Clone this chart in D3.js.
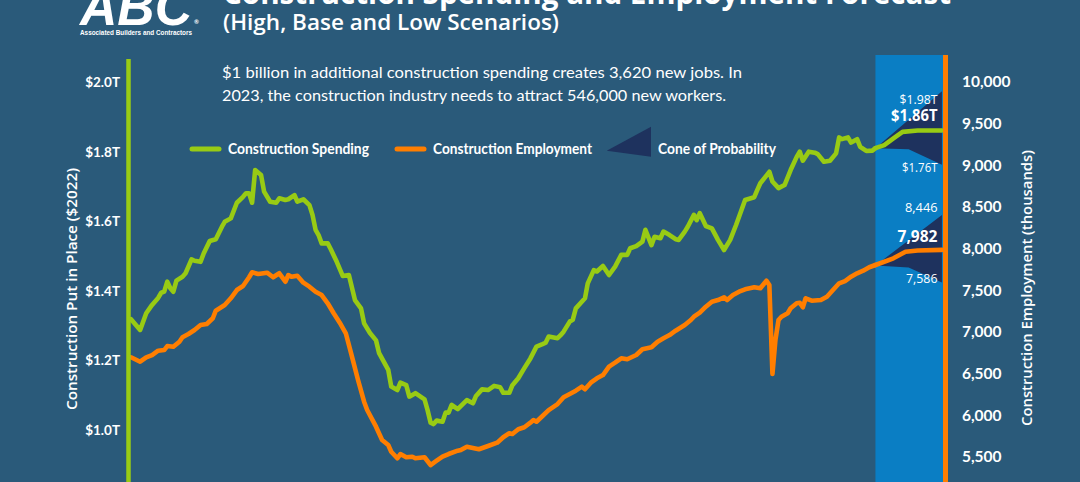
<!DOCTYPE html>
<html><head><meta charset="utf-8">
<script src="https://cdn.jsdelivr.net/npm/d3@7"></script>
<style>html,body{margin:0;padding:0;background:#2a5a7a;} svg{display:block}</style>
</head><body><svg id="c" width="1080" height="482"></svg>
<script>
// ---------- DATA ----------
const spendingTicks = [1.0, 1.2, 1.4, 1.6, 1.8, 2.0];
const employmentTicks = [5500, 6000, 6500, 7000, 7500, 8000, 8500, 9000, 9500, 10000];

const spending = [["2002-08",1.319],["2002-11",1.288],["2003-01",1.336],["2003-03",1.360],["2003-05",1.380],["2003-06",1.395],["2003-07",1.398],["2003-08",1.427],["2003-09",1.408],["2003-10",1.398],["2003-11",1.430],["2004-01",1.441],["2004-02",1.451],["2004-04",1.491],["2004-05",1.487],["2004-07",1.484],["2004-08",1.508],["2004-10",1.544],["2004-12",1.549],["2005-02",1.585],["2005-03",1.599],["2005-05",1.609],["2005-07",1.654],["2005-09",1.671],["2005-10",1.681],["2005-11",1.681],["2005-12",1.654],["2006-01",1.748],["2006-03",1.734],["2006-04",1.686],["2006-06",1.657],["2006-08",1.654],["2006-09",1.667],["2006-11",1.662],["2006-12",1.664],["2007-02",1.676],["2007-03",1.657],["2007-05",1.664],["2007-07",1.647],["2007-08",1.619],["2007-09",1.576],["2007-10",1.561],["2007-11",1.537],["2008-01",1.537],["2008-02",1.520],["2008-04",1.484],["2008-06",1.443],["2008-08",1.446],["2008-10",1.374],["2008-12",1.350],["2009-01",1.307],["2009-03",1.279],["2009-05",1.258],["2009-06",1.221],["2009-09",1.173],["2009-10",1.125],["2009-12",1.115],["2010-01",1.136],["2010-03",1.129],["2010-04",1.096],["2010-06",1.106],["2010-09",1.088],["2010-10",1.058],["2010-11",1.021],["2010-12",1.017],["2011-01",1.027],["2011-03",1.024],["2011-04",1.050],["2011-05",1.050],["2011-06",1.072],["2011-08",1.060],["2011-11",1.086],["2012-01",1.077],["2012-02",1.098],["2012-04",1.117],["2012-06",1.115],["2012-08",1.127],["2012-10",1.123],["2012-11",1.107],["2013-01",1.107],["2013-02",1.129],["2013-04",1.149],["2013-06",1.178],["2013-08",1.206],["2013-10",1.240],["2013-12",1.247],["2014-01",1.251],["2014-02",1.269],["2014-05",1.264],["2014-06",1.273],["2014-07",1.283],["2014-09",1.312],["2014-10",1.317],["2014-11",1.350],["2015-02",1.379],["2015-03",1.422],["2015-05",1.460],["2015-06",1.456],["2015-08",1.472],["2015-10",1.446],["2015-12",1.470],["2016-02",1.504],["2016-04",1.504],["2016-05",1.523],["2016-07",1.529],["2016-09",1.542],["2016-10",1.576],["2016-12",1.532],["2017-01",1.556],["2017-03",1.552],["2017-04",1.571],["2017-06",1.561],["2017-08",1.549],["2017-09",1.547],["2017-11",1.571],["2017-12",1.585],["2018-02",1.619],["2018-03",1.604],["2018-04",1.624],["2018-06",1.587],["2018-08",1.580],["2018-10",1.547],["2018-12",1.518],["2019-02",1.547],["2019-04",1.590],["2019-06",1.638],["2019-07",1.662],["2019-10",1.670],["2019-11",1.691],["2019-12",1.710],["2020-03",1.743],["2020-04",1.715],["2020-06",1.696],["2020-08",1.705],["2020-10",1.748],["2020-12",1.786],["2021-01",1.801],["2021-02",1.775],["2021-04",1.801],["2021-06",1.798],["2021-07",1.794],["2021-09",1.772],["2021-11",1.775],["2022-01",1.796],["2022-02",1.842],["2022-03",1.837],["2022-05",1.842],["2022-06",1.827],["2022-08",1.837],["2022-09",1.815],["2022-11",1.803],["2023-01",1.804],["2023-02",1.811]];
const spendingBase = [["2023-02",1.811],["2023-05",1.820],["2023-08",1.839],["2023-11",1.858],["2024-04",1.862],["2024-12",1.862]];
const spendingHigh = [["2023-02",1.811],["2024-12",1.975]];
const spendingLow = [["2023-02",1.811],["2024-01",1.808],["2024-12",1.763]];

const employment = [["2002-08",6693],["2002-11",6640],["2003-01",6693],["2003-03",6720],["2003-05",6772],["2003-07",6780],["2003-08",6828],["2003-10",6820],["2003-12",6880],["2004-01",6933],["2004-03",6972],["2004-05",7020],["2004-07",7080],["2004-09",7092],["2004-11",7161],["2004-12",7252],["2005-03",7320],["2005-05",7401],["2005-07",7500],["2005-09",7548],["2005-11",7653],["2005-12",7713],["2006-02",7692],["2006-05",7708],["2006-07",7653],["2006-09",7701],["2006-11",7600],["2006-12",7680],["2007-01",7660],["2007-03",7672],["2007-05",7588],["2007-07",7540],["2007-09",7480],["2007-11",7440],["2008-01",7341],["2008-03",7221],["2008-05",7108],["2008-07",6981],["2008-09",6700],["2008-11",6420],["2009-01",6160],["2009-02",6060],["2009-05",5860],["2009-07",5700],["2009-09",5640],["2009-10",5560],["2009-12",5481],["2010-01",5532],["2010-03",5493],["2010-05",5500],["2010-06",5481],["2010-09",5493],["2010-11",5400],["2011-01",5452],["2011-03",5500],["2011-05",5532],["2011-08",5572],["2011-09",5580],["2011-11",5620],["2012-03",5589],["2012-06",5628],["2012-09",5668],["2012-11",5733],["2013-01",5781],["2013-02",5772],["2013-04",5829],["2013-06",5853],["2013-08",5908],["2013-09",5940],["2013-10",5920],["2013-12",5988],["2014-02",6060],["2014-05",6132],["2014-07",6213],["2014-09",6252],["2014-11",6292],["2015-01",6340],["2015-02",6309],["2015-04",6388],["2015-06",6441],["2015-08",6480],["2015-10",6580],["2015-12",6628],["2016-02",6681],["2016-04",6669],["2016-07",6720],["2016-09",6789],["2016-12",6813],["2017-02",6880],["2017-04",6921],["2017-06",6960],["2017-08",7012],["2017-11",7080],["2018-01",7140],["2018-02",7180],["2018-04",7228],["2018-06",7300],["2018-08",7360],["2018-10",7380],["2018-12",7413],["2019-01",7380],["2019-03",7440],["2019-05",7480],["2019-07",7509],["2019-10",7533],["2019-12",7521],["2020-02",7612],["2020-03",7560],["2020-04",6492],["2020-05",6900],["2020-06",7140],["2020-07",7180],["2020-09",7221],["2020-10",7281],["2020-12",7341],["2021-01",7348],["2021-02",7293],["2021-03",7401],["2021-05",7372],["2021-08",7380],["2021-10",7420],["2021-12",7500],["2022-02",7581],["2022-04",7608],["2022-06",7660],["2022-08",7701],["2022-10",7732],["2022-12",7773],["2023-02",7800]];
const employmentBase = [["2023-02",7800],["2023-03",7812],["2023-08",7881],["2023-12",7960],["2024-04",7974],["2024-12",7982]];
const employmentHigh = [["2023-02",7794],["2024-12",8400]];
const employmentLow = [["2023-02",7794],["2024-01",7770],["2024-12",7590]];

const forecastPeriod = ["2023-02", "2025-01"];
const timeDomain = ["2002-08", "2025-01"];

const spendingLabels = [["$1.98T", 1.975, "high"], ["$1.86T", 1.862, "base"], ["$1.76T", 1.763, "low"]];
const employmentLabels = [["8,446", 8446, "high"], ["7,982", 7982, "base"], ["7,586", 7586, "low"]];

// ---------- DRAW ----------
const W = 1080, H = 482;
const C = {bg:"#2a5a7a", band:"#0a7ec4", cone:"#1e325e", green:"#98cb14", orange:"#ff7e00", text:"#ffffff"};
const parse = d3.timeParse("%Y-%m");
const svg = d3.select("#c");
svg.append("rect").attr("width", W).attr("height", H).attr("fill", C.bg);

const x = d3.scaleTime().domain(timeDomain.map(parse)).range([131, 945]);
const yL = d3.scaleLinear().domain([1.0, 2.0]).range([430, 82.5]);
const yR = d3.scaleLinear().domain([5500, 10000]).range([456.7, 81.7]);

function T(sel, x0, y0, s, o) {
  const t = sel.append("text").attr("x", x0).attr("y", y0).text(s)
    .attr("fill", o.fill || C.text)
    .attr("font-family", o.family || "Lato, 'Open Sans', sans-serif")
    .attr("font-size", o.size)
    .attr("font-weight", o.weight || "normal")
    .attr("text-anchor", o.anchor || "start");
  if (o.style) t.attr("font-style", o.style);
  if (o.len) t.attr("textLength", o.len).attr("lengthAdjust", "spacingAndGlyphs");
  if (o.transform) t.attr("transform", o.transform);
  return t;
}

// forecast band
svg.append("rect")
  .attr("x", x(parse(forecastPeriod[0])))
  .attr("y", 55)
  .attr("width", x(parse(forecastPeriod[1])) - x(parse(forecastPeriod[0])))
  .attr("height", H - 55)
  .attr("fill", C.band);

// cones
const poly = (hi, lo, y) => d3.line().x(d => x(parse(d[0]))).y(d => y(d[1]))(hi.concat(lo.slice().reverse())) + "Z";
svg.append("path").attr("d", poly(spendingHigh, spendingLow, yL)).attr("fill", C.cone);
svg.append("path").attr("d", poly(employmentHigh, employmentLow, yR)).attr("fill", C.cone);

// lines
const lineL = d3.line().x(d => x(parse(d[0]))).y(d => yL(d[1]));
const lineR = d3.line().x(d => x(parse(d[0]))).y(d => yR(d[1]));
function drawLine(data, gen, col) {
  svg.append("path").attr("d", gen(data)).attr("fill", "none").attr("stroke", col)
    .attr("stroke-width", 4.6).attr("stroke-linejoin", "round").attr("stroke-linecap", "round");
}
drawLine(employment, lineR, C.orange);
drawLine(employmentBase, lineR, C.orange);
drawLine(spending, lineL, C.green);
drawLine(spendingBase, lineL, C.green);

// axis lines
svg.append("line").attr("x1", 128.5).attr("x2", 128.5).attr("y1", 59).attr("y2", H)
  .attr("stroke", C.green).attr("stroke-width", 4.5);
svg.append("line").attr("x1", 945.5).attr("x2", 945.5).attr("y1", 55).attr("y2", H)
  .attr("stroke", C.orange).attr("stroke-width", 5);

// axes (labels only)
const axL = svg.append("g").attr("transform", "translate(128,0)")
  .call(d3.axisLeft(yL).tickValues(spendingTicks).tickSize(0).tickPadding(8).tickFormat(d => "$" + d.toFixed(1) + "T"));
axL.select(".domain").remove();
axL.selectAll("text").attr("fill", C.text).attr("font-family", "Lato, sans-serif")
  .attr("font-size", 13.5).attr("font-weight", "bold");
const axR = svg.append("g").attr("transform", "translate(948,0)")
  .call(d3.axisRight(yR).tickValues(employmentTicks).tickSize(0).tickPadding(14).tickFormat(d3.format(",")));
axR.select(".domain").remove();
axR.selectAll("text").attr("fill", C.text).attr("font-family", "Lato, sans-serif")
  .attr("font-size", 15.5).attr("font-weight", "bold");

// axis titles
T(svg, 0, 0, "Construction Put in Place ($2022)", {size: 15, weight: 600, anchor: "middle", len: 242,
  family: "'Open Sans', sans-serif", transform: "translate(77,289) rotate(-90)"});
T(svg, 0, 0, "Construction Employment (thousands)", {size: 15, weight: 600, anchor: "middle", len: 276,
  family: "'Open Sans', sans-serif", transform: "translate(1032,288) rotate(-90)"});

// forecast labels
const sizes = {high: 13, base: 16, low: 13};
const widthsS = {high: 38, base: 46.5, low: 35.5};
const widthsE = {high: 32.5, base: 40, low: 31.5};
spendingLabels.forEach(([s, v, k]) => {
  const yy = k === "high" ? yL(v) + 12.5 : k === "base" ? yL(v) - 9 : yL(v) + 7.5;
  T(svg, 937.5, yy, s, {size: sizes[k], weight: k === "base" ? "bold" : "normal", anchor: "end", len: widthsS[k], family: "'Open Sans', sans-serif"});
});
employmentLabels.forEach(([s, v, k]) => {
  const yy = k === "high" ? yR(v) + 1 : k === "base" ? yR(v) - 8 : yR(v) + 0.5;
  T(svg, 937.5, yy, s, {size: sizes[k], weight: k === "base" ? "bold" : "normal", anchor: "end", len: widthsE[k], family: "'Open Sans', sans-serif"});
});

// legend
const lg = svg.append("g");
lg.append("line").attr("x1", 192).attr("x2", 219).attr("y1", 149).attr("y2", 149)
  .attr("stroke", C.green).attr("stroke-width", 5).attr("stroke-linecap", "round");
T(lg, 228, 153.5, "Construction Spending", {size: 14.5, weight: "bold", len: 141});
lg.append("line").attr("x1", 397).attr("x2", 424).attr("y1", 149).attr("y2", 149)
  .attr("stroke", C.orange).attr("stroke-width", 5).attr("stroke-linecap", "round");
T(lg, 433, 153.5, "Construction Employment", {size: 14.5, weight: "bold", len: 159});
lg.append("path").attr("d", "M606.7,150.7L651,126.7L651,156.7Z").attr("fill", C.cone);
T(lg, 658, 153.5, "Cone of Probability", {size: 14.5, weight: "bold", len: 118});

// annotation
T(svg, 222, 78, "$1 billion in additional construction spending creates 3,620 new jobs. In", {size: 15.5, len: 520});
T(svg, 222, 101, "2023, the construction industry needs to attract 546,000 new workers.", {size: 15.5, len: 504});

// title
T(svg, 223, 4, "Construction Spending and Employment Forecast", {size: 31, weight: "bold", len: 728, family: "'Open Sans', sans-serif"});
T(svg, 223, 30, "(High, Base and Low Scenarios)", {size: 21, weight: 600, len: 336, family: "'Open Sans', sans-serif"});

// logo
T(svg, 80, 25, "ABC", {size: 54, weight: 900, style: "italic", len: 112, family: "'Liberation Sans', Arial, sans-serif"});
T(svg, 194, 24, "®", {size: 6, weight: "bold"});
T(svg, 80, 34.5, "Associated Builders and Contractors", {size: 7.5, weight: "bold", len: 112, family: "'Liberation Sans', Arial, sans-serif"});
</script></body></html>
